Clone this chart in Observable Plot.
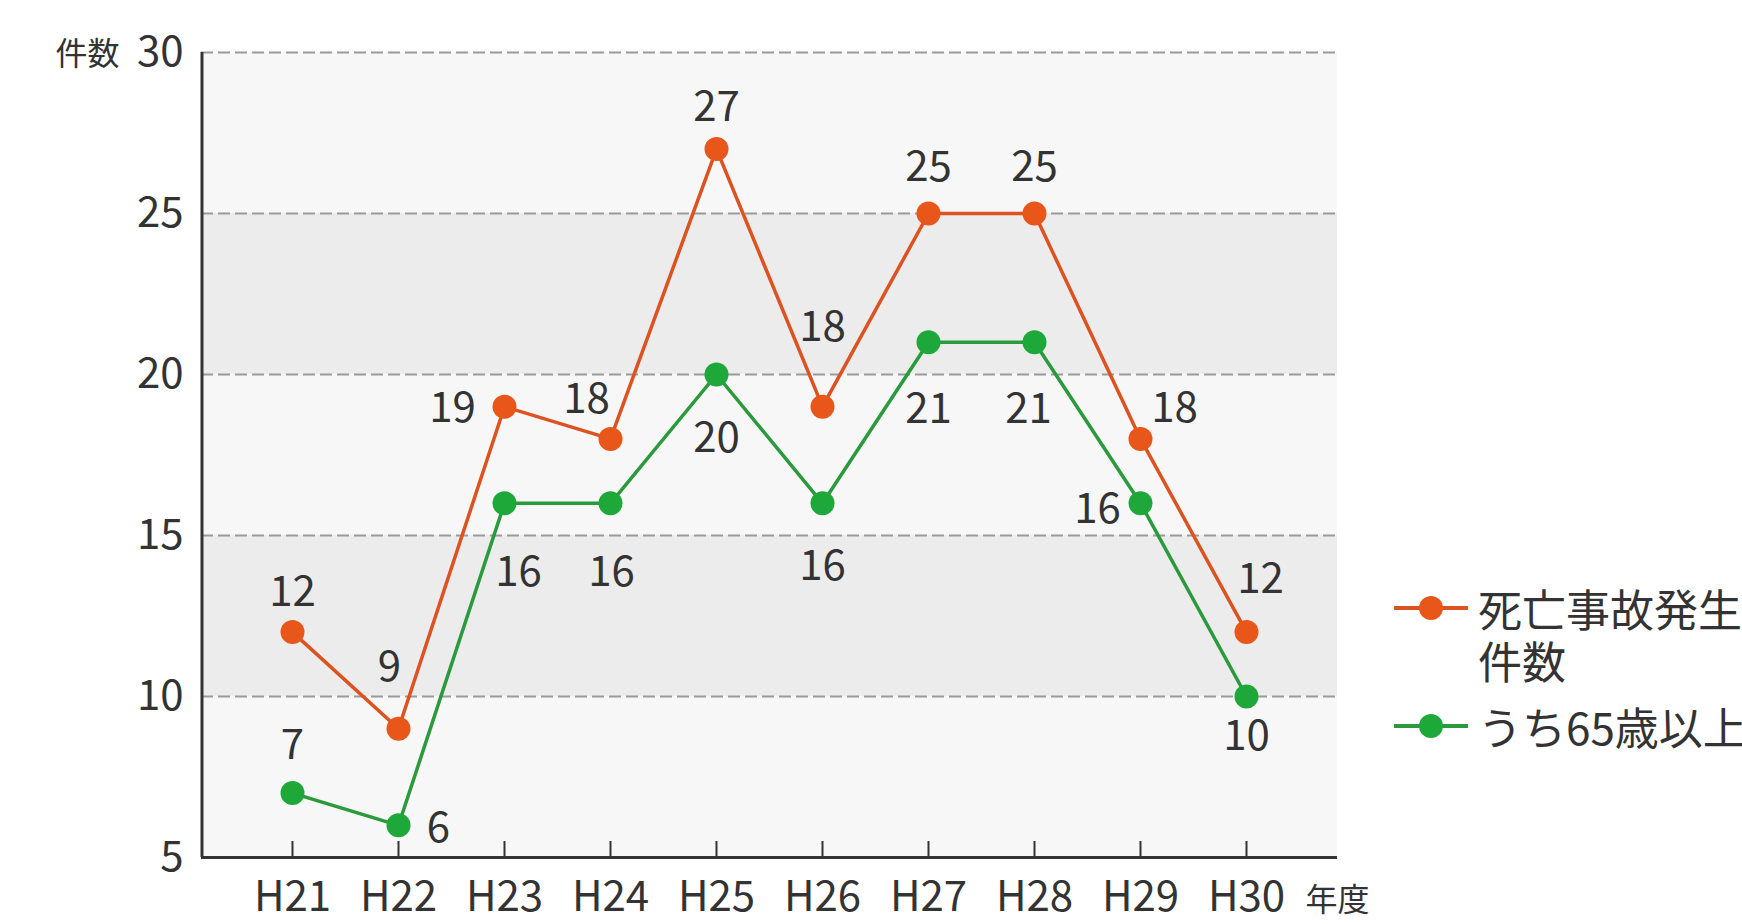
<!DOCTYPE html>
<html>
<head>
<meta charset="utf-8">
<script src="https://cdn.jsdelivr.net/npm/d3@7"></script>
<script src="https://cdn.jsdelivr.net/npm/@observablehq/plot@0.6"></script>
<style>
  html, body { margin: 0; padding: 0; background: #fff; overflow: hidden; }
  #wrap { position: relative; width: 1742px; height: 924px; font-family: "Noto Sans CJK JP", "Noto Sans", sans-serif; color: #333; }
  #legend { position: absolute; left: 1394px; top: 582px; font-size: 44px; line-height: 52px; white-space: nowrap; }
  .item { display: flex; align-items: flex-start; }
  .sw { width: 74px; height: 52px; position: relative; flex: none; margin-right: 10px; }
  .sw .ln { position: absolute; left: 0; right: 0; top: 24px; height: 4px; }
  .sw .dt { position: absolute; left: 25px; top: 14px; width: 24px; height: 24px; border-radius: 50%; }
</style>
</head>
<body>
<div id="wrap">
  <div id="chart"></div>
  <div id="legend"></div>
</div>
<script>
// ---- data ----
const years = ["H21","H22","H23","H24","H25","H26","H27","H28","H29","H30"];
const deaths = [12, 9, 19, 18, 27, 19, 25, 25, 18, 12];          // 死亡事故発生件数 (plotted)
const deathLabels = ["12","9","19","18","27","18","25","25","18","12"]; // as printed
const elderly = [7, 6, 16, 16, 20, 16, 21, 21, 16, 10];          // うち65歳以上
const elderlyLabels = ["7","6","16","16","20","16","21","21","16","10"];
const seriesNames = ["死亡事故発生\n件数", "うち65歳以上"];
const yTicks = [5, 10, 15, 20, 25, 30];
const gridTicks = [10, 15, 20, 25, 30];
const bandStarts = [5, 10, 15, 20, 25];

// ---- label placement (pixel offsets) ----
const deathOffsets = [[0,-40],[-9,-61],[-52,2],[-24,-39],[0,-42],[0,-79],[0,-46],[0,-46],[34,-30],[14,-53]];
const elderlyOffsets = [[0,-48],[40,3],[14,69],[1,69],[0,64],[0,63],[0,67],[-6,67],[-43,6],[0,40]];

const orange = "#e8561a", orangeLine = "#dc5220";
const green = "#1ea83a", greenLine = "#2a9a3c";
const font = '"Noto Sans CJK JP", "Noto Sans", sans-serif';

const xPadding = 0.853;
const plotLeft = 201, plotRight = 1337;
const xStep = (plotRight - plotLeft) / (years.length - 1 + 2 * xPadding);

const dRows = years.map((y, i) => ({year: y, v: deaths[i], label: deathLabels[i], dx: deathOffsets[i][0], dy: deathOffsets[i][1]}));
const eRows = years.map((y, i) => ({year: y, v: elderly[i], label: elderlyLabels[i], dx: elderlyOffsets[i][0], dy: elderlyOffsets[i][1]}));
const bands = bandStarts.map((s, i) => ({y1: s, y2: s + 5, fill: i % 2 === 1 ? "#ececec" : "#f7f7f7"}));

const labelMarks = (rows) => rows.map(r => Plot.text([r], {
  x: "year", y: "v", text: "label", dx: r.dx, dy: r.dy,
  fontSize: 42, fill: "#333", fontFamily: font
}));

const chart = Plot.plot({
  width: 1742,
  height: 924,
  marginLeft: plotLeft,
  marginRight: 1742 - plotRight,
  marginTop: 52,
  marginBottom: 67,
  style: {fontFamily: font, background: "transparent", overflow: "visible"},
  x: {type: "point", domain: years, padding: xPadding, axis: null},
  y: {domain: [5, 30], axis: null},
  marks: [
    Plot.rect(bands, {y1: "y1", y2: "y2", fill: "fill"}),
    Plot.ruleY(gridTicks, {stroke: "#9a9a9a", strokeWidth: 2, strokeDasharray: "12,5"}),
    Plot.axisY({ticks: yTicks, tickSize: 0, tickPadding: 18, fontSize: 42, color: "#333", label: null}),
    // x ticks pointing up from the baseline
    Plot.ruleX(years, {x: d => d, y1: 5, y2: 5 + 16 / 32.2, stroke: "#333", strokeWidth: 2}),
    Plot.text(years, {x: d => d, frameAnchor: "bottom", dy: 53, fontSize: 42, fill: "#333"}),
    Plot.ruleY([5], {stroke: "#333", strokeWidth: 3}),
    Plot.ruleX([years[0]], {y1: 5, y2: 30, dx: -xStep * xPadding, stroke: "#333", strokeWidth: 3}),
    Plot.text(["件数"], {frameAnchor: "top-left", dx: -146, dy: -10, fontSize: 32, fill: "#333", textAnchor: "start"}),
    Plot.text(["年度"], {frameAnchor: "bottom-right", dx: 32, dy: 53, fontSize: 32, fill: "#333"}),
    Plot.line(eRows, {x: "year", y: "v", stroke: greenLine, strokeWidth: 3.5}),
    Plot.line(dRows, {x: "year", y: "v", stroke: orangeLine, strokeWidth: 3.5}),
    Plot.dot(eRows, {x: "year", y: "v", r: 12, fill: green}),
    Plot.dot(dRows, {x: "year", y: "v", r: 12, fill: orange}),
    ...labelMarks(dRows),
    ...labelMarks(eRows)
  ]
});
document.getElementById("chart").appendChild(chart);

// legend
const legend = document.getElementById("legend");
[[seriesNames[0], orange, orangeLine], [seriesNames[1], green, greenLine]].forEach(([name, c, lc], i) => {
  const item = document.createElement("div");
  item.className = "item";
  if (i === 1) item.style.marginTop = "14px";
  item.innerHTML = `<div class="sw"><div class="ln" style="background:${lc}"></div><div class="dt" style="background:${c}"></div></div><div>${name.replace("\n", "<br>")}</div>`;
  legend.appendChild(item);
});
</script>
</body>
</html>
